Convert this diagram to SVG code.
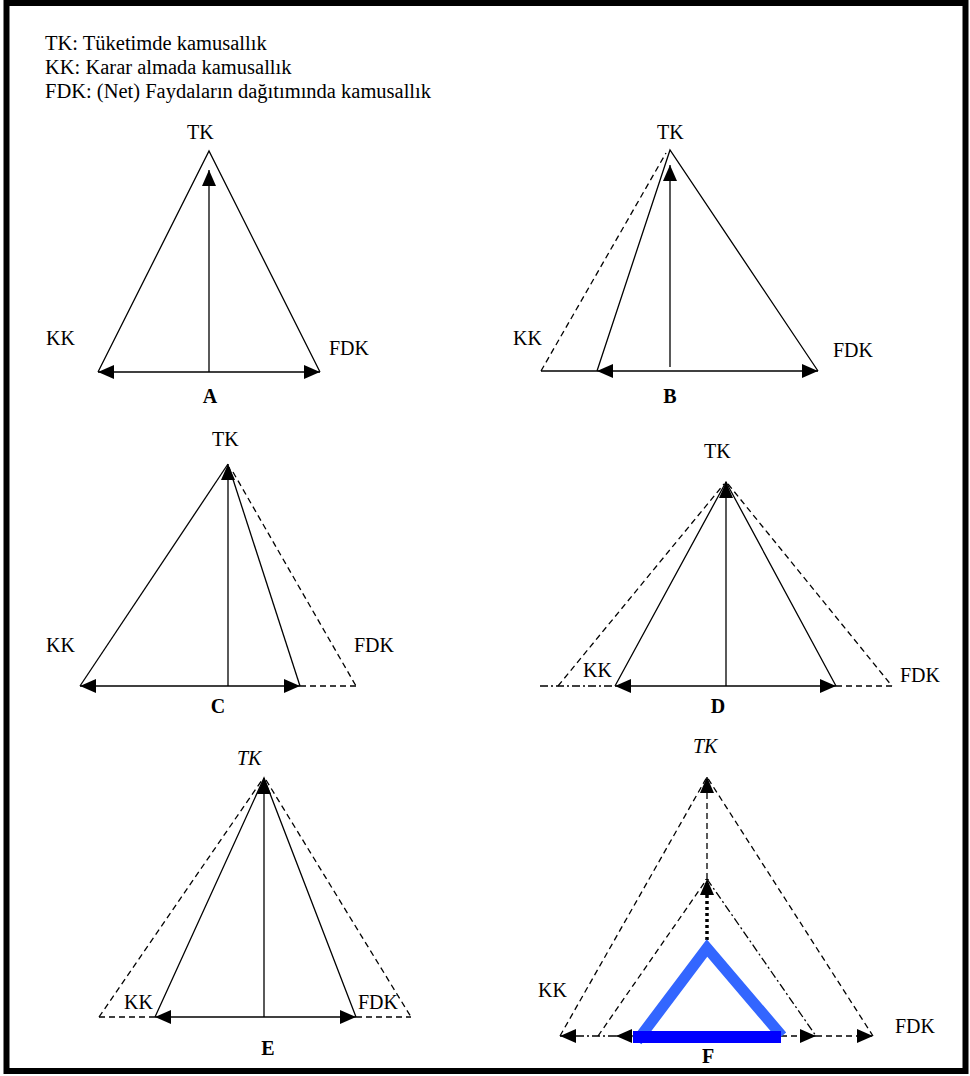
<svg xmlns="http://www.w3.org/2000/svg" width="970" height="1076" viewBox="0 0 970 1076">
<style>
  text { font-family: "Liberation Serif", "Times New Roman", serif; font-size: 20px; fill: #000; }
  .hdr { font-size: 20.5px; }
  .it { font-style: italic; }
  .bold { font-weight: bold; }
  .s { stroke: #000; stroke-width: 1.3; fill: none; }
  .d { stroke: #000; stroke-width: 1.3; fill: none; stroke-dasharray: 6 4; }
  .dd { stroke: #000; stroke-width: 1.3; fill: none; stroke-dasharray: 8 3 2 3; }
  .dot { stroke: #000; stroke-width: 3.5; fill: none; stroke-dasharray: 3 3; }
  .arr2 { marker-start: url(#ah); marker-end: url(#ah); }
  .arrE { marker-end: url(#ah); }
  .arrS { marker-start: url(#ah); }
</style>
<defs>
  <marker id="ah" markerUnits="userSpaceOnUse" markerWidth="16" markerHeight="14" refX="16" refY="7" orient="auto-start-reverse" viewBox="0 0 16 14">
    <path d="M0,0 L16,7 L0,14 Z" fill="#000"/>
  </marker>
</defs>
<rect x="0" y="0" width="970" height="1076" fill="#fff"/>
<rect x="6.5" y="3" width="959" height="1068" fill="none" stroke="#000" stroke-width="6"/>

<g id="legend">
  <text class="hdr" x="45" y="50">TK: Tüketimde kamusallık</text>
  <text class="hdr" x="45" y="74">KK: Karar almada kamusallık</text>
  <text class="hdr" x="45" y="98">FDK: (Net) Faydaların dağıtımında kamusallık</text>
</g>

<g id="panelA">
  <g id="A-connectors">
    <polyline class="s" points="98,372 209,151 320,372"/>
    <line class="s arr2" x1="98" y1="372" x2="320" y2="372"/>
    <line class="s arrE" x1="209" y1="372" x2="209" y2="170"/>
  </g>
  <text x="187" y="139">TK</text>
  <text x="46" y="345">KK</text>
  <text x="329" y="355">FDK</text>
  <text class="bold" x="210" y="403" text-anchor="middle">A</text>
</g>

<g id="panelB">
  <g id="B-connectors">
    <polyline class="s" points="597,371 670,150 818,371"/>
    <line class="d" x1="541" y1="371" x2="666" y2="153"/>
    <line class="s" x1="541" y1="371" x2="597" y2="371"/>
    <line class="s arr2" x1="597" y1="371" x2="818" y2="371"/>
    <line class="s arrE" x1="670" y1="367" x2="670" y2="165"/>
  </g>
  <text x="657" y="139">TK</text>
  <text x="513" y="345">KK</text>
  <text x="833" y="357">FDK</text>
  <text class="bold" x="670" y="403" text-anchor="middle">B</text>
</g>

<g id="panelC">
  <g id="C-connectors">
    <line class="s" x1="80" y1="686" x2="228" y2="464"/>
    <line class="s" x1="229" y1="467" x2="300" y2="686"/>
    <line class="d" x1="233" y1="472" x2="356" y2="686"/>
    <line class="s arr2" x1="80" y1="686" x2="300" y2="686"/>
    <line class="d" x1="300" y1="686" x2="356" y2="686"/>
    <line class="s arrE" x1="228" y1="686" x2="228" y2="464"/>
  </g>
  <text x="212" y="446">TK</text>
  <text x="46" y="652">KK</text>
  <text x="354" y="652">FDK</text>
  <text class="bold" x="218" y="713" text-anchor="middle">C</text>
</g>

<g id="panelD">
  <g id="D-connectors">
    <polyline class="s" points="615,686 726,482 836,686"/>
    <line class="d" x1="558" y1="686" x2="724" y2="484"/>
    <line class="d" x1="728" y1="484" x2="892" y2="686"/>
    <line class="dd" x1="540" y1="686" x2="615" y2="686"/>
    <line class="s arr2" x1="615" y1="686" x2="836" y2="686"/>
    <line class="d" x1="836" y1="686" x2="892" y2="686"/>
    <line class="s arrE" x1="726" y1="686" x2="726" y2="482"/>
  </g>
  <text x="704" y="458">TK</text>
  <text x="583" y="677">KK</text>
  <text x="900" y="682">FDK</text>
  <text class="bold" x="718" y="713" text-anchor="middle">D</text>
</g>

<g id="panelE">
  <g id="E-connectors">
    <polyline class="s" points="155,1017 264,778 356,1017"/>
    <line class="d" x1="99" y1="1017" x2="262" y2="780"/>
    <line class="d" x1="266" y1="780" x2="411" y2="1017"/>
    <line class="d" x1="99" y1="1017" x2="155" y2="1017"/>
    <line class="s arr2" x1="155" y1="1017" x2="356" y2="1017"/>
    <line class="d" x1="356" y1="1017" x2="411" y2="1017"/>
    <line class="s arrE" x1="264" y1="1017" x2="264" y2="778"/>
  </g>
  <text class="it" x="237" y="765">TK</text>
  <text x="124" y="1009">KK</text>
  <text x="358" y="1009">FDK</text>
  <text class="bold" x="268" y="1055" text-anchor="middle">E</text>
</g>

<g id="panelF">
  <g id="F-connectors">
    <polyline class="d" points="560,1036 707,777 873,1036"/>
    <line class="d arrE" x1="707" y1="879" x2="707" y2="777"/>
    <line class="d" x1="598" y1="1036" x2="707" y2="879"/>
    <line class="dd" x1="707" y1="879" x2="816" y2="1036"/>
    <line class="dot arrE" x1="707" y1="952" x2="707" y2="879"/>
    <line class="dd arrS" x1="560" y1="1036" x2="616" y2="1036"/>
    <line class="s arrS" x1="616" y1="1036" x2="640" y2="1036"/>
    <line class="d arrE" x1="781" y1="1036" x2="816" y2="1036"/>
    <line class="d arrE" x1="816" y1="1036" x2="873" y2="1036"/>
  </g>
  <polyline points="637,1041 707,948 782,1036" fill="none" stroke="#3366FF" stroke-width="11" stroke-linejoin="miter"/>
  <rect x="633" y="1031" width="148" height="12" fill="#0000FF"/>
  <text class="it" x="693" y="753">TK</text>
  <text x="538" y="997">KK</text>
  <text x="895" y="1033">FDK</text>
  <text class="bold" x="708" y="1063" text-anchor="middle">F</text>
</g>
</svg>
